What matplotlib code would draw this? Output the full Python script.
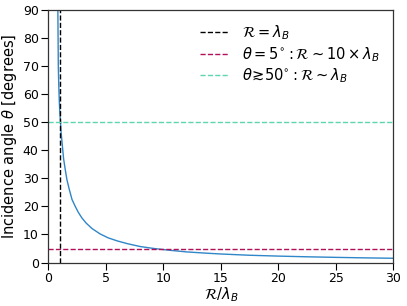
import matplotlib
matplotlib.use("Agg")
import matplotlib.pyplot as plt

# values
ratio = [0.82, 0.86, 0.9, 0.95, 1.0, 1.05, 1.1, 1.17, 1.25, 1.32, 1.45, 1.61, 1.8,
         2.05, 2.3, 2.6, 2.93, 3.3, 3.8, 4.5, 5.2, 6.0, 6.9, 8.0, 9.2, 10.5, 12.0,
         13.5, 15.0, 17.5, 20.0, 22.5, 25.0, 27.5, 30.0]
theta = [90.0, 70.0, 63.0, 57.0, 53.0, 50.0, 46.5, 43.5, 40.0, 37.0, 33.5, 29.5, 26.3,
         22.5, 20.3, 17.9, 15.8, 14.0, 12.1, 10.2, 8.8, 7.7, 6.7, 5.7, 5.0, 4.4, 3.8,
         3.4, 3.05, 2.6, 2.3, 2.05, 1.85, 1.67, 1.53]

vline_x = 1.0
theta_small = 5.0
theta_large = 50.0

labels = [r"$\mathcal{R} = \lambda_B$",
          r"$\theta = 5^{\circ}: \mathcal{R} \sim 10 \times \lambda_B$",
          r"$\theta\!\gtrsim\!50^{\circ}: \mathcal{R} \sim \lambda_B$"]

fig = plt.figure(figsize=(4.07, 3.06), dpi=100)
ax = fig.add_axes([0.119, 0.142, 0.847, 0.825])

ax.plot(ratio, theta, color="#2f86c8", lw=1.0)
ax.axvline(vline_x, color="black", ls="--", lw=1.0, label=labels[0])
ax.axhline(theta_small, color="#b3105a", ls="--", lw=1.0, label=labels[1])
ax.axhline(theta_large, color="#5fd6b2", ls="--", lw=1.0, label=labels[2])

ax.set_xlim(0, 30)
ax.set_ylim(0, 90)
ax.set_xticks([0, 5, 10, 15, 20, 25, 30])
ax.set_yticks(range(0, 91, 10))
ax.set_xlabel(r"$\mathcal{R}/\lambda_B$", fontsize=10.5, labelpad=0)
ax.set_ylabel(r"Incidence angle $\theta$ [degrees]", fontsize=10.5, labelpad=3)
ax.tick_params(direction="out", length=5, width=0.8, colors="black", pad=2, labelsize=9)
for s in ax.spines.values():
    s.set_color("#333333")
    s.set_linewidth(0.9)

ax.legend(loc="upper right", frameon=False, fontsize=10.5, handlelength=2.0,
          handletextpad=0.9, labelspacing=0.2, borderaxespad=0.5)

fig.savefig("out.png", dpi=100)
